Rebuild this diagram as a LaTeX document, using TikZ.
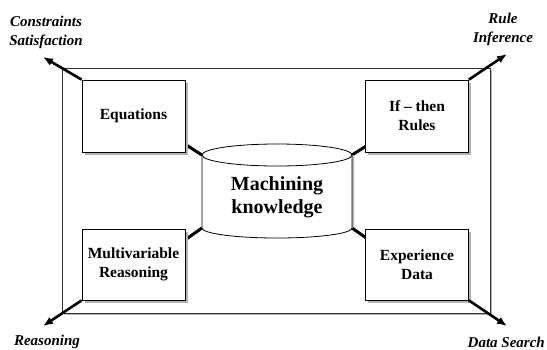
\documentclass[tikz,border=0pt]{standalone}
\usepackage{fontspec}
\setmainfont{Liberation Serif}
\usetikzlibrary{arrows.meta,shadows}

\begin{document}
\begin{tikzpicture}[x=1pt,y=-1pt,
  frame/.style={draw=black!80, line width=0.9pt, fill=white,
    drop shadow={shadow xshift=2pt, shadow yshift=-2pt, fill=gray!60, opacity=1}},
  box/.style={draw, fill=white, line width=0.8pt, minimum width=103pt,
    minimum height=72pt, inner sep=0pt, align=center,
    font=\bfseries\fontsize{15.5}{19}\selectfont,
    drop shadow={shadow xshift=2.5pt, shadow yshift=-2.5pt, fill=gray!60, opacity=1}},
  link/.style={line width=3pt},
  axis/.style={line width=2.6pt, -{Latex[length=10pt,width=8pt]}},
  tag/.style={align=center, inner sep=0pt,
    font=\bfseries\itshape\fontsize{15}{19}\selectfont}
]
\useasboundingbox (0,0) rectangle (547,349);

% outer frame
\node[frame, minimum width=428pt, minimum height=245pt, inner sep=0pt] (frm) at (276,190.5) {};

% cylinder anchor points
\coordinate (ctl) at (202,155);
\coordinate (ctr) at (352,155);
\coordinate (cbl) at (202,228);
\coordinate (cbr) at (352,228);

% axis end points
\coordinate (tnw) at (43,57);
\coordinate (tne) at (507,54);
\coordinate (tsw) at (43,326);
\coordinate (tse) at (507,326);

% connectors run diagonally from the store and end under the boxes
\coordinate (eqc) at (172,136);
\coordinate (rlc) at (382,136);
\coordinate (mvc) at (172,249);
\coordinate (exc) at (382,249);
\draw[link] (ctl) -- (eqc);
\draw[link] (ctr) -- (rlc);
\draw[link] (cbl) -- (mvc);
\draw[link] (cbr) -- (exc);

% cylinder shadow
\fill[gray!60] ([xshift=2pt]ctl) -- ([xshift=2pt,yshift=2pt]cbl)
  arc[start angle=180, end angle=360, x radius=75pt, y radius=10pt]
  -- ([xshift=2pt]ctr) -- cycle;
% cylinder body
\fill[white] (ctl) -- (cbl)
  arc[start angle=180, end angle=360, x radius=75pt, y radius=10pt]
  -- (ctr) arc[start angle=0, end angle=180, x radius=75pt, y radius=11pt] -- cycle;
\draw[line width=0.8pt] (ctl) -- (cbl)
  arc[start angle=180, end angle=360, x radius=75pt, y radius=10pt] -- (ctr);
\draw[line width=0.8pt] (277,155) ellipse[x radius=75pt, y radius=11pt];
\node[align=center, font=\bfseries\fontsize{20}{23}\selectfont] (store) at (277,197)
  {Machining\\knowledge};

% boxes
\node[box] (eq) at (133.5,116) {Equations};
\node[box] (rl) at (417,116) {If -- then\\Rules};
\node[box, minimum height=71pt] (mv) at (133.5,264.5) {Multivariable\\Reasoning};
\node[box, minimum height=71pt] (ex) at (417,264.5) {Experience\\Data};

% axes
\draw[axis] (eq.north west) -- (tnw);
\draw[axis] (rl.north east) -- (tne);
\draw[axis] (mv.south west) -- (tsw);
\draw[axis] (ex.south east) -- (tse);

% axis labels
\node[tag] (lnw) at (46,32) {Constraints\\Satisfaction};
\node[tag] (lne) at (503,29) {Rule\\Inference};
\node[tag] (lsw) at (47,342) {Reasoning};
\node[tag, anchor=east] (lse) at (545,342) {Data Search};
\end{tikzpicture}
\end{document}
